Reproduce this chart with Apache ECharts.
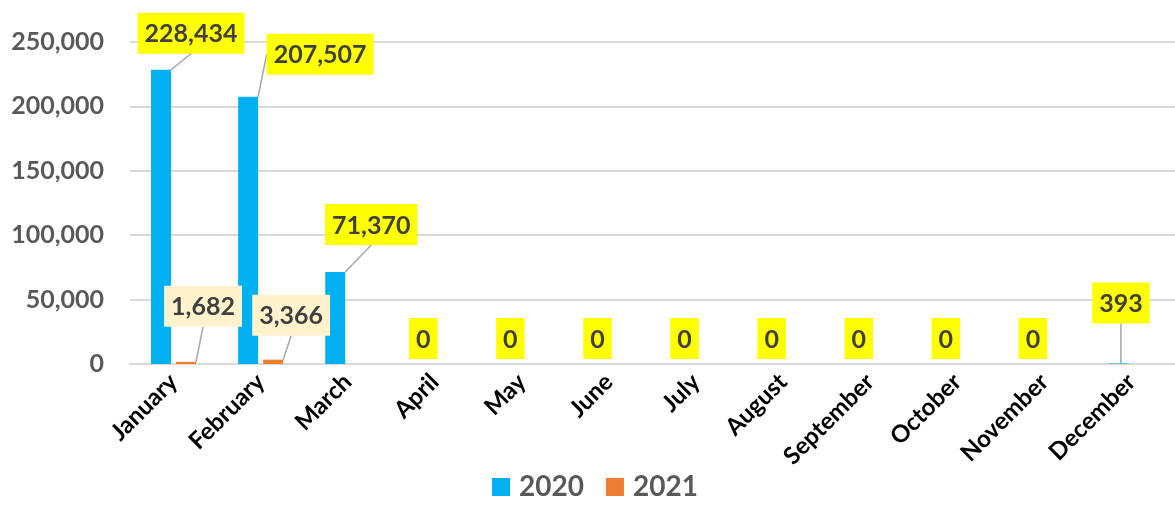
<!DOCTYPE html>
<html>
<head>
<meta charset="utf-8">
<script src="https://cdn.jsdelivr.net/npm/echarts@6/dist/echarts.min.js"></script>
<style>
  html, body { margin: 0; padding: 0; background: #fff; }
  #chart { width: 1175px; height: 506px; }
</style>
</head>
<body>
<div id="chart"></div>
<script>
const months = ['January', 'February', 'March', 'April', 'May', 'June', 'July',
    'August', 'September', 'October', 'November', 'December'];
const values2020 = [228434, 207507, 71370, 0, 0, 0, 0, 0, 0, 0, 0, 393];
const values2021 = [1682, 3366, null, null, null, null, null, null, null, null, null, null];
const yTicks = [0, 50000, 100000, 150000, 200000, 250000];

// label shifts (px) from the default "top" position, to mimic the hand-placed callouts
const shift2020 = [[30, -11], [72, -17], [36, -22], [1, 0], [1, 0], [1, 0], [1, 0],
    [1, 0], [1, 0], [1, 0], [1, 0], [2, -35]];
const shift2021 = [[17, -30], [18, -19]];

const font = 'Lato, "Open Sans", sans-serif';
const fmt = v => v.toLocaleString('en-US');

const chart = echarts.init(document.getElementById('chart'));

function labelStyle(bg) {
    return {
        show: true,
        position: 'top',
        distance: 5,
        formatter: p => fmt(p.value),
        fontFamily: font,
        fontWeight: 'bold',
        fontSize: 25,
        color: '#404040',
        backgroundColor: bg,
        padding: [9, 7, 7, 7]
    };
}

chart.setOption({
    animation: false,
    textStyle: { fontFamily: font },
    grid: { left: 130, right: -7, top: 42, bottom: 142 },
    legend: {
        bottom: 0,
        left: 487,
        icon: 'rect',
        itemWidth: 18,
        itemHeight: 18,
        itemGap: 22,
        textStyle: {
            fontFamily: font, fontWeight: 'bold', fontSize: 28, color: '#595959',
            padding: [0, 0, 0, 4]
        },
        data: ['2020', '2021']
    },
    xAxis: {
        type: 'category',
        data: months,
        axisLine: { lineStyle: { color: '#d9d9d9', width: 2 } },
        axisTick: { show: false },
        axisLabel: {
            rotate: 45,
            interval: 0,
            margin: 14,
            fontFamily: font,
            fontWeight: 'bold',
            fontSize: 24,
            color: '#000'
        }
    },
    yAxis: {
        type: 'value',
        min: yTicks[0],
        max: yTicks[yTicks.length - 1],
        interval: yTicks[1] - yTicks[0],
        axisLine: { show: false },
        axisTick: { show: false },
        splitLine: { lineStyle: { color: '#d9d9d9', width: 2 } },
        axisLabel: {
            margin: 26,
            formatter: v => fmt(v),
            fontFamily: font,
            fontWeight: 'bold',
            fontSize: 25,
            color: '#595959'
        }
    },
    series: [
        {
            name: '2020',
            type: 'bar',
            barWidth: 20,
            barGap: '25%',
            itemStyle: { color: '#00b0f0' },
            data: values2020.map(v => ({
                value: v,
                labelLine: { show: v > 0 }
            })),
            label: labelStyle('#ffff00'),
            labelLine: { show: true, lineStyle: { color: '#a6a6a6', width: 1.5 } },
            labelLayout: p => ({ dx: shift2020[p.dataIndex][0], dy: shift2020[p.dataIndex][1] })
        },
        {
            name: '2021',
            type: 'bar',
            barWidth: 20,
            barGap: '25%',
            itemStyle: { color: '#ed7d31' },
            data: values2021,
            label: labelStyle('#fff2cc'),
            labelLine: { show: true, lineStyle: { color: '#a6a6a6', width: 1.5 } },
            labelLayout: p => {
                const s = shift2021[p.dataIndex] || [0, 0];
                return { dx: s[0], dy: s[1] };
            }
        }
    ]
});
</script>
</body>
</html>
